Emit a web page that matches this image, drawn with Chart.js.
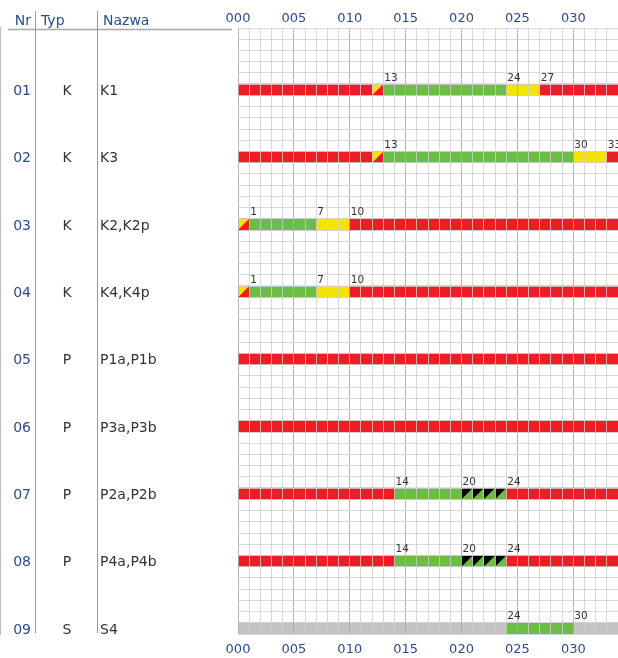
<!DOCTYPE html>
<html lang="pl">
<head>
  <meta charset="UTF-8" />
  <title>Program sygnalizacji</title>
  <style>
    body {
      margin: 0;
      padding: 0;
      background: #fff;
      overflow: hidden;
    }
    canvas {
      display: block;
    }
  </style>
</head>
<body>
  <canvas id="plan" width="618" height="658"></canvas>

  <script src="https://cdn.jsdelivr.net/npm/chart.js"></script>
  <script>
    // kolumny tabeli po lewej
    const numery = ['01', '02', '03', '04', '05', '06', '07', '08', '09'];
    const typy = ['K', 'K', 'K', 'K', 'P', 'P', 'P', 'P', 'S'];
    const nazwy = ['K1', 'K3', 'K2,K2p', 'K4,K4p', 'P1a,P1b', 'P3a,P3b', 'P2a,P2b', 'P4a,P4b', 'S4'];

    // odcinki sygnałów: [wiersz, od sekundy, do sekundy]
    const czerwone = [[0, 0, 12], [0, 27, 34], [1, 0, 12], [1, 33, 34], [2, 10, 34], [3, 10, 34],
                      [4, 0, 34], [5, 0, 34], [6, 0, 14], [6, 24, 34], [7, 0, 14], [7, 24, 34]];
    const czerwonoZolte = [[0, 12, 13], [1, 12, 13], [2, 0, 1], [3, 0, 1]];
    const zielone = [[0, 13, 24], [1, 13, 30], [2, 1, 7], [3, 1, 7], [6, 14, 20], [7, 14, 20], [8, 24, 30]];
    const zolte = [[0, 24, 27], [1, 30, 33], [2, 7, 10], [3, 7, 10]];
    const zieloneMigajace = [[6, 20, 24], [7, 20, 24]];
    const nieaktywne = [[8, 0, 24], [8, 30, 34]];

    // liczby nad paskami: [wiersz, sekunda]
    const etykiety = [[0, 13], [0, 24], [0, 27], [1, 13], [1, 30], [1, 33], [2, 1], [2, 7], [2, 10],
                      [3, 1], [3, 7], [3, 10], [6, 14], [6, 20], [6, 24], [7, 14], [7, 20], [7, 24],
                      [8, 24], [8, 30]];

    const znaczniki = ['000', '005', '010', '015', '020', '025', '030'];
    const czasMax = 34;
    const podzialy = 6; // linie siatki na jeden wiersz

    const NIEBIESKI = '#2c4a8c';
    const TEKST = '#333333';
    const FONT = '"DejaVu Sans", Verdana, sans-serif';

    function srodekWiersza(w) {
      return w * podzialy + podzialy - 0.5;
    }

    function naPaski(odcinki) {
      return odcinki.map(o => ({ x: [o[1], o[2]], y: srodekWiersza(o[0]) }));
    }

    function zestaw(label, odcinki, kolor) {
      return {
        label: label,
        data: naPaski(odcinki),
        backgroundColor: kolor,
        borderWidth: 0,
        barThickness: 11.2,
        grouped: false
      };
    }

    // bez dodatkowych marginesow od etykiet osi
    function bezMarginesow(s) {
      s.paddingTop = 0;
      s.paddingBottom = 0;
      s.paddingLeft = 0;
      s.paddingRight = 0;
    }

    // trojkaty w lewym gornym rogu komorki (czerwono-zolte, zielone migajace)
    const trojkaty = {
      id: 'trojkaty',
      afterDatasetsDraw(chart) {
        const { ctx, scales: { x, y } } = chart;
        const rysuj = (odcinki, kolor) => {
          ctx.fillStyle = kolor;
          odcinki.forEach(o => {
            const gora = y.getPixelForValue(o[0] * podzialy + podzialy - 1);
            const dol = y.getPixelForValue(o[0] * podzialy + podzialy);
            for (let s = o[1]; s < o[2]; s++) {
              const l = x.getPixelForValue(s);
              const p = x.getPixelForValue(s + 1);
              ctx.beginPath();
              ctx.moveTo(l, gora);
              ctx.lineTo(p, gora);
              ctx.lineTo(l, dol);
              ctx.closePath();
              ctx.fill();
            }
          });
        };
        ctx.save();
        rysuj(czerwonoZolte, '#f3e500');
        rysuj(zieloneMigajace, '#000000');
        ctx.restore();
      }
    };

    // tabela po lewej i liczby nad paskami
    const tabela = {
      id: 'tabela',
      afterDraw(chart) {
        const { ctx, scales: { x, y } } = chart;
        ctx.save();

        ctx.strokeStyle = '#a8a8a8';
        ctx.lineWidth = 1.5;
        ctx.beginPath();
        ctx.moveTo(8, 29.5);
        ctx.lineTo(232, 29.5);
        ctx.stroke();

        ctx.strokeStyle = '#9a9a9a';
        ctx.lineWidth = 1;
        ctx.beginPath();
        ctx.moveTo(35.5, 11);
        ctx.lineTo(35.5, 633);
        ctx.moveTo(97.5, 11);
        ctx.lineTo(97.5, 633);
        ctx.stroke();

        ctx.font = '14px ' + FONT;
        ctx.fillStyle = NIEBIESKI;
        ctx.textBaseline = 'alphabetic';
        ctx.textAlign = 'right';
        ctx.fillText('Nr', 31, 25);
        ctx.textAlign = 'left';
        ctx.fillText('Typ', 41, 25);
        ctx.fillText('Nazwa', 103, 25);

        ctx.textBaseline = 'middle';
        numery.forEach((n, i) => {
          const yy = y.getPixelForValue(srodekWiersza(i)) + 1.5;
          ctx.fillStyle = NIEBIESKI;
          ctx.textAlign = 'right';
          ctx.fillText(n, 31, yy);
          ctx.fillStyle = TEKST;
          ctx.textAlign = 'center';
          ctx.fillText(typy[i], 67, yy);
          ctx.textAlign = 'left';
          ctx.fillText(nazwy[i], 100, yy);
        });

        ctx.font = '10.5px ' + FONT;
        ctx.fillStyle = TEKST;
        ctx.textAlign = 'left';
        ctx.textBaseline = 'bottom';
        etykiety.forEach(e => {
          const xx = x.getPixelForValue(e[1]) + 1;
          const yy = y.getPixelForValue(e[0] * podzialy + podzialy - 1) - 1;
          ctx.fillText(String(e[1]), xx, yy);
        });

        ctx.restore();
      }
    };

    const etykietaCzasu = v => (v % 5 === 0 ? znaczniki[v / 5] : '');
    const osCzasu = {
      type: 'linear',
      min: 0,
      max: czasMax,
      ticks: {
        stepSize: 1,
        autoSkip: false,
        maxRotation: 0,
        color: NIEBIESKI,
        font: { family: FONT, size: 13 },
        callback: etykietaCzasu
      }
    };

    new Chart(document.getElementById('plan'), {
      type: 'bar',
      data: {
        datasets: [
          zestaw('czerwone', czerwone.concat(czerwonoZolte), '#ee1c25'),
          zestaw('zielone', zielone.concat(zieloneMigajace), '#6bbd45'),
          zestaw('zolte', zolte, '#f3e500'),
          zestaw('nieaktywne', nieaktywne, '#c3c3c3')
        ]
      },
      options: {
        indexAxis: 'y',
        responsive: false,
        animation: false,
        layout: { padding: { left: 238, right: 0, top: 0, bottom: 0 } },
        plugins: {
          legend: { display: false },
          tooltip: { enabled: false }
        },
        scales: {
          x: Object.assign({}, osCzasu, {
            position: 'bottom',
            ticks: Object.assign({}, osCzasu.ticks, { padding: 8 }),
            grid: {
              z: 1,
              drawTicks: false,
              color: c => (c.tick && c.tick.value % 5 === 0 ? 'rgba(170,170,170,0.85)' : 'rgba(208,208,208,0.8)')
            },
            border: { display: false },
            afterFit: s => { s.height = 24; bezMarginesow(s); }
          }),
          x2: Object.assign({}, osCzasu, {
            position: 'top',
            ticks: Object.assign({}, osCzasu.ticks, { padding: 2 }),
            grid: { display: false, drawTicks: false },
            border: { display: false },
            afterFit: s => { s.height = 28; bezMarginesow(s); }
          }),
          y: {
            type: 'linear',
            min: 0,
            max: numery.length * podzialy,
            reverse: true,
            offset: false,
            ticks: { display: false, stepSize: 1 },
            grid: {
              z: 1,
              offset: false,
              drawTicks: false,
              color: 'rgba(208,208,208,0.8)'
            },
            border: { display: true, color: '#a6a6a6', width: 1.5 },
            afterFit: s => { s.width = 0; bezMarginesow(s); }
          }
        }
      },
      plugins: [trojkaty, tabela]
    });
  </script>
</body>
</html>
